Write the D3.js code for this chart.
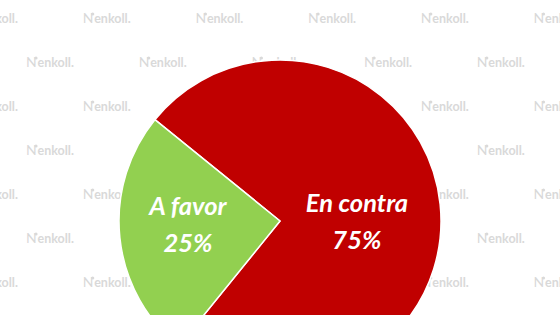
<!DOCTYPE html>
<html>
<head>
<meta charset="utf-8">
<script src="https://cdn.jsdelivr.net/npm/d3@7"></script>
<style>
  html, body { margin: 0; padding: 0; background: #ffffff; }
  svg { display: block; }
</style>
</head>
<body>
<svg id="chart" width="560" height="315"></svg>
<script>
// ---- data ----
const categories = ["En contra", "A favor"];
const values = [75, 25];
const valueLabels = ["75%", "25%"];
const colors = ["#c00000", "#92d050"];
const watermarkText = "enkoll.";

// ---- layout ----
const W = 560, H = 315;
const cx = 280, cy = 221, R = 161;
const svg = d3.select("#chart");

// watermark grid (behind pie); marks fully covered by the pie are skipped
const wm = svg.append("g").attr("fill", "#d9d9d9")
  .attr("font-family", "Lato, 'Open Sans', sans-serif")
  .attr("font-weight", 700).attr("font-size", 12.5);
d3.range(7).forEach(r => {
  const y = 18 + r * 44;
  const x0 = (r % 2 === 0) ? -30 : 26;
  for (let x = x0; x < W + 60; x += 112.7) {
    const corners = [[x, y - 8], [x + 54, y - 8], [x, y + 6], [x + 54, y + 6]];
    const allInside = corners.every(([px, py]) => Math.hypot(px - cx, py - cy) < R - 2);
    if (allInside) continue;
    const g = wm.append("g").attr("transform", `translate(${x},${y})`);
    g.append("text").attr("x", 0).attr("y", 4.5)
      .attr("font-size", 14).attr("font-weight", 400).text("N");
    g.append("circle").attr("cx", 10).attr("cy", -4).attr("r", 1.6);
    g.append("text").attr("x", 11.5).attr("y", 4.5).text(watermarkText);
  }
});

// pie
const startDeg = -51;
const pie = d3.pie().sort(null).value(d => d)
  .startAngle(startDeg * Math.PI / 180)
  .endAngle((startDeg + 360) * Math.PI / 180);
const arcs = pie(values);
const arc = d3.arc().innerRadius(0).outerRadius(R);

const g = svg.append("g").attr("transform", `translate(${cx},${cy})`);
g.selectAll("path").data(arcs).enter().append("path")
  .attr("d", arc)
  .attr("fill", (d, i) => colors[i])
  .attr("stroke", "#ffffff").attr("stroke-width", 1.5)
  .attr("stroke-linejoin", "round");

// labels
const labelFactor = [0.48, 0.575];
const labels = g.selectAll("g.lbl").data(arcs).enter().append("g").attr("class", "lbl")
  .attr("transform", (d, i) => {
    const rr = R * labelFactor[i];
    const c = d3.arc().innerRadius(rr).outerRadius(rr).centroid(d);
    return `translate(${c[0]},${i === 0 ? 0 : 3})`;
  });
labels.append("text")
  .attr("text-anchor", "middle").attr("y", -9)
  .attr("fill", "#ffffff").attr("font-family", "Lato, 'Open Sans', sans-serif")
  .attr("font-weight", 700).attr("font-style", "italic").attr("font-size", 25.5)
  .text((d, i) => categories[i]);
labels.append("text")
  .attr("text-anchor", "middle").attr("y", 28)
  .attr("fill", "#ffffff").attr("font-family", "Lato, 'Open Sans', sans-serif")
  .attr("font-weight", 700).attr("font-style", "italic").attr("font-size", 25.5)
  .text((d, i) => valueLabels[i]);
</script>
</body>
</html>
